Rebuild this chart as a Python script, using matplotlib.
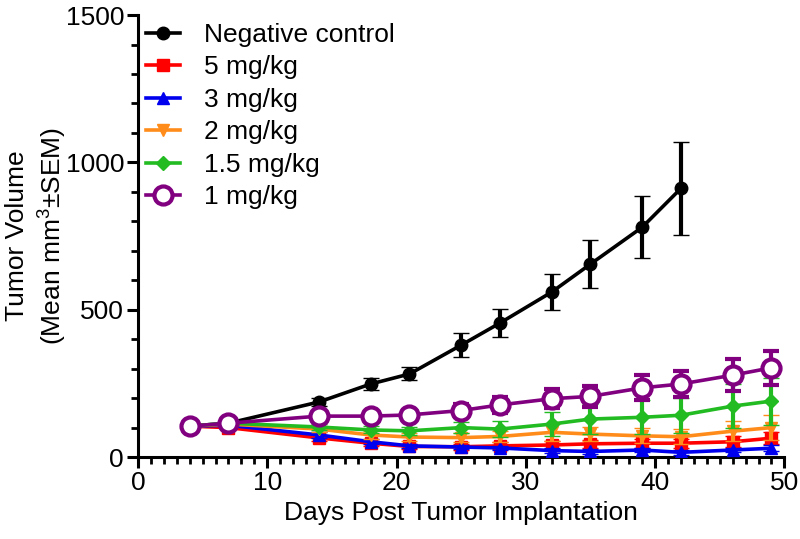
import numpy as np
import matplotlib.pyplot as plt
from matplotlib.ticker import MultipleLocator

plt.rcParams['font.family'] = ['Liberation Sans', 'DejaVu Sans']
plt.rcParams['mathtext.fontset'] = 'custom'
plt.rcParams['mathtext.rm'] = 'Liberation Sans'

days = [4, 7, 14, 18, 21, 25, 28, 32, 35, 39, 42, 46, 49]

neg_days = days[:11]
neg_mean = [105, 115, 187, 248, 282, 380, 455, 560, 655, 780, 912]
neg_sem = [8, 10, 12, 22, 22, 42, 48, 62, 82, 105, 158]

mg5_mean = [105, 100, 65, 47, 36, 35, 38, 41, 45, 47, 47, 52, 64]
mg5_sem = [8, 8, 10, 8, 8, 10, 12, 14, 14, 16, 16, 18, 20]

mg3_mean = [105, 108, 75, 52, 38, 34, 31, 22, 19, 24, 16, 24, 30]
mg3_sem = [8, 8, 10, 8, 8, 8, 8, 8, 8, 8, 8, 8, 10]

mg2_mean = [105, 112, 95, 75, 68, 66, 70, 84, 78, 72, 69, 88, 100]
mg2_sem = [8, 8, 10, 12, 12, 15, 20, 28, 25, 25, 25, 33, 42]

mg15_mean = [105, 115, 102, 92, 89, 100, 95, 112, 129, 135, 142, 173, 190]
mg15_sem = [8, 8, 10, 12, 14, 20, 28, 40, 50, 58, 60, 75, 80]

mg1_mean = [105, 115, 139, 139, 143, 158, 177, 198, 206, 235, 248, 278, 303]
mg1_sem = [8, 8, 12, 15, 18, 22, 28, 32, 35, 42, 45, 55, 58]

labels = ['Negative control', '5 mg/kg', '3 mg/kg', '2 mg/kg', '1.5 mg/kg', '1 mg/kg']
colors = ['black', '#ff0000', '#0000ee', '#ff8c1a', '#22bb22', '#800080']
markers = ['o', 's', '^', 'v', 'D', 'o']

series = [
    (neg_days, neg_mean, neg_sem),
    (days, mg5_mean, mg5_sem),
    (days, mg3_mean, mg3_sem),
    (days, mg2_mean, mg2_sem),
    (days, mg15_mean, mg15_sem),
    (days, mg1_mean, mg1_sem),
]

fig = plt.figure(figsize=(8, 5.39), dpi=100)
ax = fig.add_axes([0.1725, 0.152, 0.808, 0.82])

handles = []
for i, (x, y, e) in enumerate(series):
    open_marker = i == 5
    c = ax.errorbar(x, y, yerr=e, color=colors[i], marker=markers[i],
                    markersize=13 if open_marker else (7 if markers[i] == 'D' else 9),
                    markerfacecolor='white' if open_marker else colors[i],
                    markeredgewidth=3 if open_marker else 1,
                    linewidth=2.6, elinewidth=3, capsize=6, capthick=3.5,
                    label=labels[i], zorder=3 + i)
    handles.append(c[0])

ax.set_xlim(0, 50)
ax.set_ylim(0, 1500)
ax.xaxis.set_major_locator(MultipleLocator(10))
ax.xaxis.set_minor_locator(MultipleLocator(1))
ax.yaxis.set_major_locator(MultipleLocator(500))
ax.yaxis.set_minor_locator(MultipleLocator(100))

for s in ['top', 'right']:
    ax.spines[s].set_visible(False)
for s in ['left', 'bottom']:
    ax.spines[s].set_linewidth(2.2)

ax.tick_params(which='major', length=8, width=2.2, labelsize=19, pad=2)
ax.tick_params(which='minor', length=5, width=2)

ax.set_xlabel('Days Post Tumor Implantation', fontsize=19, labelpad=4)
ax.set_ylabel('Tumor Volume\n(Mean mm$^3$±SEM)', fontsize=19, linespacing=1.25)
ax.yaxis.set_label_coords(-0.108, 0.5)

ax.legend(handles, labels, loc='upper left', bbox_to_anchor=(-0.012, 1.018),
          frameon=False, fontsize=19, handlelength=1.3, labelspacing=0.32,
          handletextpad=0.9, borderaxespad=0.2)

fig.savefig('out.png', dpi=100)
